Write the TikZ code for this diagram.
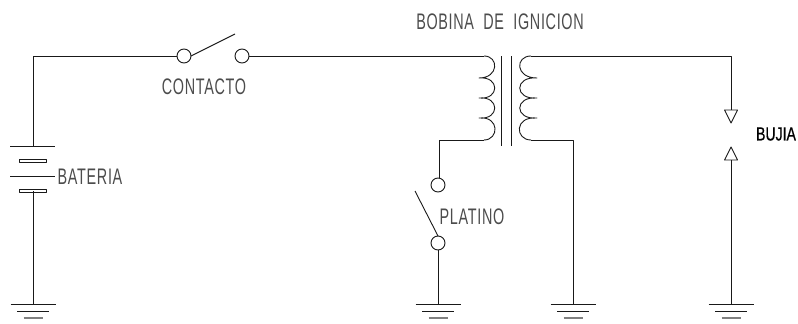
\documentclass[tikz,border=0pt]{standalone}
\usepackage{fontspec}
\setmainfont{Liberation Sans}
\newfontfamily\cadfont[FakeStretch=0.64,LetterSpace=3]{Liberation Sans}
\newfontfamily\cadbold[FakeStretch=0.74,FakeBold=0.6]{Liberation Sans}
\definecolor{wire}{gray}{0.1}
\definecolor{txt}{gray}{0.3}
\tikzset{
  x=1pt,y=-1pt,
  wireline/.style={draw=wire,line width=0.9pt,line join=round},
  terminal/.style={circle,draw=wire,line width=0.9pt,fill=white,minimum size=14pt,inner sep=0pt,outer sep=0pt},
  cadlabel/.style={font=\cadfont\fontsize{22.5}{22.5}\selectfont,text=txt,inner sep=0pt,outer sep=0pt},
  pics/earth/.style={code={
    \draw[wireline] (-22.5,0) -- (22.5,0);
    \draw[wireline] (-16,7) -- (16,7);
    \draw[draw=gray,line width=1.3pt] (-9.5,14) -- (9.5,14);
  }},
}
\begin{document}
\begin{tikzpicture}
\useasboundingbox (0,0) rectangle (798,324);
% named points
\coordinate (tl) at (33,56);
\coordinate (batTop) at (33,146);
\coordinate (batBot) at (33,191);
\coordinate (g1) at (33,304);
\coordinate (g2) at (438,304);
\coordinate (g3) at (573,304);
\coordinate (g4) at (731,304);
\coordinate (priTop) at (484,56);
\coordinate (priBot) at (484,140);
\coordinate (secTop) at (531,56);
\coordinate (secBot) at (531,140);
\coordinate (priCorner) at (439,140);
\coordinate (secCorner) at (573,140);
\coordinate (tr) at (731,56);
\coordinate (gapTop) at (731,110);
\coordinate (gapBot) at (731,160);
\coordinate (armA) at (235,34);
\coordinate (armB) at (415,191);
% terminals
\node[terminal] (c1) at (184,56) {};
\node[terminal] (c2) at (242,56) {};
\node[terminal] (p1) at (438,185) {};
\node[terminal] (p2) at (438,243) {};
% wires
\draw[wireline] (batTop) -- (tl) -- (c1.west);
\draw[wireline] (c1.east) -- (armA);
\draw[wireline] (c2.east) -- (priTop);
\draw[wireline] (priBot) -- (priCorner) -- (p1.north -| priCorner);
\draw[wireline] (p2.north) -- (armB);
\draw[wireline] (p2.south) -- (g2);
\draw[wireline] (secBot) -- (secCorner) -- (g3);
\draw[wireline] (secTop) -- (tr) -- (gapTop);
\draw[wireline] (gapBot) -- (g4);
\draw[wireline] (batBot) -- (g1);
% battery
\draw[wireline] (10,146) -- (55,146);
\draw[wireline] (19,159.5) rectangle (46,162);
\draw[wireline] (10,176) -- (55,176);
\draw[wireline] (19,189.5) rectangle (46,192);
% coils
\draw[wireline] (priTop) .. controls (499,56) and (499,78) .. (479,78)
  .. controls (500,76) and (500,100) .. (479,98)
  .. controls (500,96) and (500,120) .. (479,118)
  .. controls (500,116) and (499,140) .. (priBot);
\draw[wireline] (secTop) .. controls (515,56) and (515,78) .. (537,78)
  .. controls (514,76) and (514,100) .. (537,98)
  .. controls (514,96) and (514,120) .. (537,118)
  .. controls (514,116) and (515,140) .. (secBot);
% core
\draw[wireline] (501,56) -- (501,146);
\draw[wireline] (511,56) -- (511,146);
% spark gap
\draw[wireline] (gapTop) -- +(-6.5,0) -- +(0,13) -- +(6.5,0) -- cycle;
\draw[wireline] (gapBot) -- +(-6.5,0) -- +(0,-13) -- +(6.5,0) -- cycle;
% grounds
\pic at (g1) {earth};
\pic at (g2) {earth};
\pic at (g3) {earth};
\pic at (g4) {earth};
% labels
\node[cadlabel] (lbob) at (500,21.5) {BOBINA\ \ DE\ \ IGNICION};
\node[cadlabel] (lcon) at (204,87) {CONTACTO};
\node[cadlabel] (lbat) at (90,176.5) {BATERIA};
\node[cadlabel] (lpla) at (472,216.5) {PLATINO};
\node[cadlabel,font=\cadbold\fontsize{19}{19}\selectfont,text=black] (lbuj) at (776,134) {BUJIA};
\end{tikzpicture}
\end{document}
